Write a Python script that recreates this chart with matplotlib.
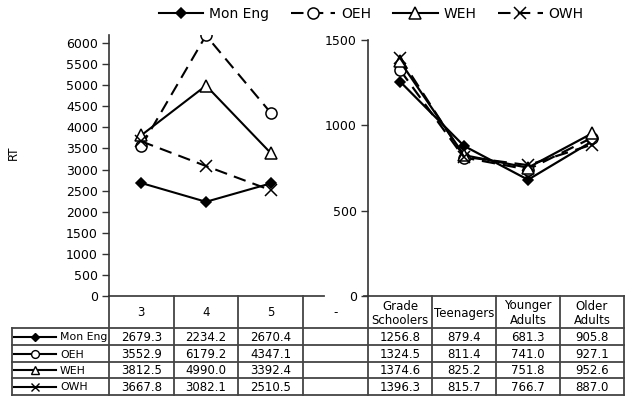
import matplotlib.pyplot as plt
import numpy as np

# Data
grades = ['3', '4', '5']
groups = ['Grade\nSchoolers', 'Teenagers', 'Younger\nAdults', 'Older\nAdults']
series = ['Mon Eng', 'OEH', 'WEH', 'OWH']

mon_eng_grade = [2679.3, 2234.2, 2670.4]
oeh_grade = [3552.9, 6179.2, 4347.1]
weh_grade = [3812.5, 4990.0, 3392.4]
owh_grade = [3667.8, 3082.1, 2510.5]

mon_eng_age = [1256.8, 879.4, 681.3, 905.8]
oeh_age = [1324.5, 811.4, 741.0, 927.1]
weh_age = [1374.6, 825.2, 751.8, 952.6]
owh_age = [1396.3, 815.7, 766.7, 887.0]

grade_vals = [mon_eng_grade, oeh_grade, weh_grade, owh_grade]
age_vals = [mon_eng_age, oeh_age, weh_age, owh_age]

markers = ['D', 'o', '^', 'x']
msizes = [5.5, 8, 8, 8]
faces = ['black', 'white', 'white', 'white']
lstyles = ['-', (0, (6, 3.5)), '-', (0, (6, 3.5))]

W, H = 630, 401
fig = plt.figure(figsize=(6.3, 4.01), dpi=100)

def px_axes(x0, x1, y0, y1):
    return fig.add_axes([x0 / W, 1 - y1 / H, (x1 - x0) / W, (y1 - y0) / H])

# overlay for the data table, in pixel coords
ov = fig.add_axes([0, 0, 1, 1], zorder=0)
ov.set_xlim(0, W)
ov.set_ylim(H, 0)
ov.axis('off')

axL = px_axes(109, 303, 35, 296)
axR = px_axes(368, 624, 40, 296)

handles = []
for i, name in enumerate(series):
    h, = axL.plot(range(len(grades)), grade_vals[i], color='black', lw=1.5,
                  linestyle=lstyles[i], marker=markers[i], markersize=msizes[i],
                  markerfacecolor=faces[i], markeredgecolor='black',
                  markeredgewidth=1.1, label=name)
    handles.append(h)
    axR.plot(range(len(groups)), age_vals[i], color='black', lw=1.6,
             linestyle=lstyles[i], marker=markers[i], markersize=msizes[i],
             markerfacecolor=faces[i], markeredgecolor='black', markeredgewidth=1.1)

axL.set_xlim(-0.5, 2.5)
axL.set_ylim(0, 6190)
axL.set_yticks(np.arange(0, 6001, 500))
axR.set_xlim(-0.5, 3.5)
axR.set_ylim(0, 1500)
axR.set_yticks([0, 500, 1000, 1500])

for ax in (axL, axR):
    ax.patch.set_alpha(0)
    for s in ['top', 'right', 'bottom']:
        ax.spines[s].set_visible(False)
    ax.spines['left'].set_color('#333333')
    ax.spines['left'].set_linewidth(1.2)
    ax.set_xticks([])
    ax.tick_params(axis='y', direction='out', length=5, width=1, color='#333333',
                   labelsize=9, pad=3)

fig.text(13 / W, 1 - 153 / H, 'RT', rotation=90, fontsize=8.5, ha='center', va='center')

# table grid
lc = '#444444'
lw = 1.3
edgesL = np.linspace(109, 303, len(grades) + 1)
edgesR = np.linspace(368, 624, len(groups) + 1)
edges = list(edgesL) + list(edgesR)
rows = [328, 345, 362, 378, 395]
top = 296

ov.plot([109, 324], [top, top], color=lc, lw=lw)
ov.plot([364, 624], [top, top], color=lc, lw=lw)
for y in rows:
    ov.plot([12, 624], [y, y], color=lc, lw=lw)
for x in edges:
    ov.plot([x, x], [top, rows[-1]], color=lc, lw=lw)
ov.plot([12, 12], [rows[0], rows[-1]], color=lc, lw=lw)

headers = grades + ['-'] + groups
centers = [(a + b) / 2 for a, b in zip(edges[:-1], edges[1:])]
for c, t in zip(centers, headers):
    ov.text(c, (top + rows[0]) / 2 + 1, t, ha='center', va='center', fontsize=8.5,
            linespacing=1.1)

for i, name in enumerate(series):
    yc = (rows[i] + rows[i + 1]) / 2
    ov.plot([14, 56], [yc, yc], color='black', lw=1.5)
    ov.plot([35], [yc], linestyle='none', marker=markers[i], markersize=msizes[i] * 0.7,
            markerfacecolor=faces[i], markeredgecolor='black', markeredgewidth=1.0)
    ov.text(60, yc + 1, name, ha='left', va='center', fontsize=7.8)
    row_vals = grade_vals[i] + [None] + age_vals[i]
    for c, v in zip(centers, row_vals):
        if v is not None:
            ov.text(c, yc + 1, f'{v:.1f}', ha='center', va='center', fontsize=8.5)

fig.legend(handles=handles, loc='center', bbox_to_anchor=(371 / W, 1 - 14 / H),
           ncol=4, frameon=False, fontsize=10, handlelength=3.2,
           handletextpad=0.4, columnspacing=1.6)

plt.savefig('out.png', dpi=100)
